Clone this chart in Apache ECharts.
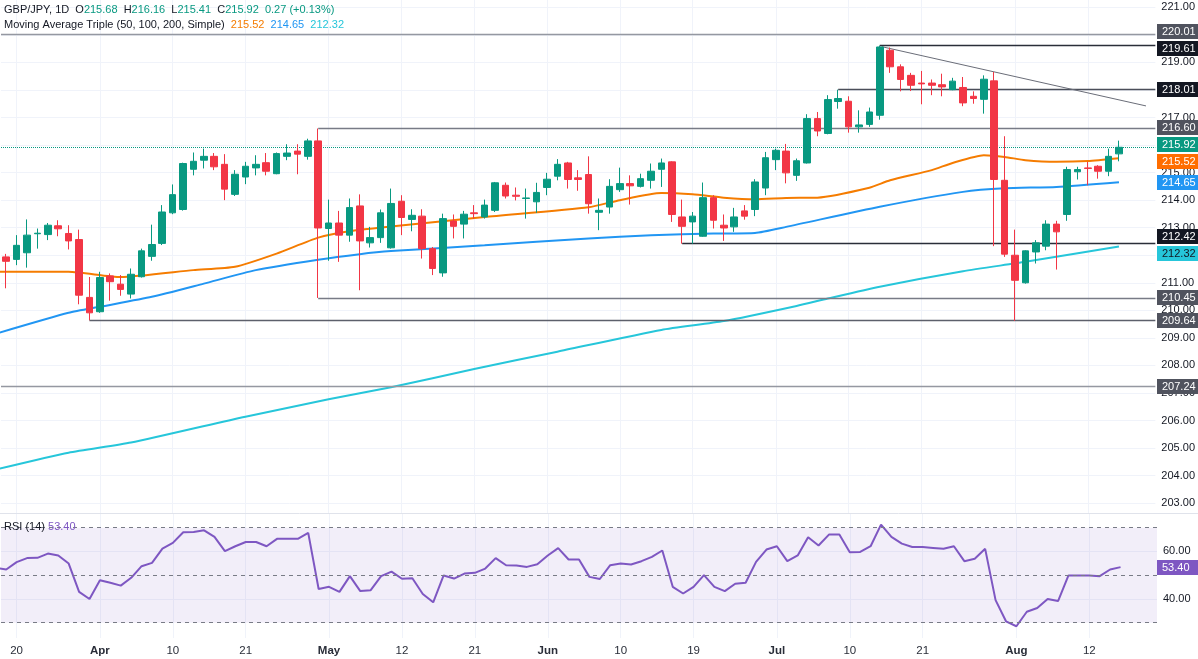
<!DOCTYPE html>
<html>
<head>
<meta charset="utf-8">
<title>GBP/JPY 1D</title>
<script src="https://cdn.jsdelivr.net/npm/echarts@6/dist/echarts.min.js"></script>
<style>
  html, body { margin: 0; padding: 0; background: #fff; }
  #chart { width: 1198px; height: 659px; }
</style>
</head>
<body>
<div id="chart"></div>
<script>
// x = trading day index, 0 = Mar 20; first candle is Mar 19 (index -1)
const firstIdx = -1;

const opens = [
  211.94, 211.85, 212.09, 212.78, 212.75, 213.07, 212.79, 212.57, 210.47, 209.95,
  211.25, 210.95, 210.59, 211.22, 211.96, 212.43, 213.54, 213.66, 215.12, 215.45,
  215.59, 215.30, 214.21, 214.84, 215.17, 215.36, 214.96, 215.59, 215.78, 215.59,
  216.15, 212.97, 213.17, 212.73, 213.79, 212.45, 212.64, 212.27, 213.96, 213.30,
  213.42, 212.24, 211.36, 213.24, 213.13, 213.54, 213.39, 213.63, 214.54, 214.18,
  214.06, 213.94, 214.46, 214.87, 215.35, 214.81, 214.93, 213.56, 213.75, 214.38,
  214.60, 214.50, 214.72, 215.12, 215.39, 213.39, 213.21, 212.69, 214.09, 213.09,
  213.03, 213.61, 213.66, 214.44, 215.47, 215.78, 214.90, 215.35, 216.96, 216.42,
  217.58, 217.59, 216.66, 216.75, 217.08, 219.44, 218.84, 218.53, 218.25, 218.25,
  218.19, 218.01, 218.09, 217.77, 217.66, 218.33, 214.72, 212.00, 211.00, 212.12,
  212.33, 213.13, 213.48, 215.03, 215.17, 215.23, 215.05, 215.68
];
const highs = [
  212.05, 212.73, 213.30, 212.97, 213.17, 213.27, 213.09, 212.93, 211.21, 211.40,
  211.34, 211.28, 211.52, 212.24, 213.11, 213.82, 214.57, 215.36, 215.73, 215.87,
  215.71, 215.67, 215.09, 215.39, 215.63, 215.71, 215.73, 216.03, 216.03, 216.23,
  216.60, 214.02, 213.61, 214.06, 214.21, 213.03, 213.66, 214.42, 214.18, 213.67,
  213.67, 212.30, 213.51, 213.48, 213.61, 213.82, 214.02, 214.66, 214.64, 214.46,
  214.42, 214.63, 214.99, 215.49, 215.39, 215.09, 215.59, 214.06, 214.76, 215.18,
  214.90, 214.96, 215.33, 215.51, 215.41, 214.02, 213.57, 214.64, 214.18, 213.48,
  213.72, 213.82, 214.76, 215.75, 215.87, 216.04, 215.51, 217.12, 217.20, 217.81,
  218.01, 217.77, 217.26, 217.36, 219.61, 219.54, 218.93, 218.62, 218.69, 218.38,
  218.59, 218.44, 218.47, 217.95, 218.53, 218.65, 216.32, 212.93, 212.18, 212.55,
  213.27, 213.25, 215.21, 215.21, 215.39, 215.27, 215.87, 216.16
];
const lows = [
  210.80, 211.64, 211.55, 212.24, 212.55, 212.69, 212.21, 210.22, 209.64, 209.91,
  210.35, 210.53, 210.43, 211.19, 211.80, 212.37, 213.49, 213.62, 214.90, 215.15,
  215.09, 214.00, 214.15, 214.58, 214.90, 214.90, 214.94, 215.45, 214.94, 215.47,
  210.45, 211.80, 211.76, 212.49, 210.73, 212.28, 212.45, 212.24, 212.73, 212.87,
  211.88, 211.28, 211.22, 212.61, 212.61, 213.33, 213.33, 213.57, 214.06, 213.99,
  213.33, 213.54, 214.18, 214.72, 214.42, 214.34, 213.51, 212.91, 213.51, 214.30,
  213.84, 214.46, 214.42, 214.48, 213.21, 212.42, 212.42, 212.67, 212.97, 212.52,
  212.85, 213.29, 213.42, 214.18, 215.09, 214.61, 214.70, 215.33, 216.32, 216.39,
  217.32, 216.45, 216.45, 216.66, 216.92, 218.62, 217.95, 217.96, 217.48, 217.81,
  217.77, 217.99, 217.41, 217.50, 217.14, 212.33, 211.94, 209.62, 210.97, 211.70,
  212.18, 211.48, 213.25, 214.75, 214.54, 214.78, 214.87, 215.41
];
const closes = [
  211.78, 212.36, 212.73, 212.80, 213.09, 212.96, 212.52, 210.55, 209.91, 211.19,
  211.04, 210.76, 211.31, 212.16, 212.39, 213.57, 214.20, 215.33, 215.41, 215.59,
  215.21, 214.40, 214.94, 215.23, 215.30, 215.05, 215.69, 215.71, 215.67, 216.15,
  212.99, 213.17, 212.73, 213.73, 212.52, 212.64, 213.54, 213.88, 213.37, 213.45,
  212.24, 211.52, 213.33, 213.05, 213.49, 213.51, 213.82, 214.63, 214.15, 214.14,
  214.08, 214.28, 214.76, 215.30, 214.75, 214.75, 213.87, 213.63, 214.50, 214.60,
  214.52, 214.78, 215.05, 215.35, 213.48, 213.05, 213.42, 214.09, 213.27, 212.99,
  213.39, 213.42, 214.66, 215.54, 215.81, 214.99, 215.43, 216.96, 216.51, 217.65,
  217.69, 216.66, 216.73, 217.20, 219.56, 218.84, 218.38, 218.17, 218.22, 218.17,
  218.11, 218.32, 217.53, 217.69, 218.39, 214.75, 212.04, 211.09, 212.16, 212.45,
  213.13, 212.85, 215.11, 215.11, 215.15, 215.05, 215.59, 215.92
];

// moving averages at a few days
const ma50X = [-2, 5, 10, 17, 21, 25, 29, 32, 36, 45, 55, 58, 62, 65, 68, 71, 74, 77, 82, 84, 88, 90, 93, 95, 97, 100, 103, 106];
const ma50 = [211.40, 211.40, 211.21, 211.46, 211.58, 212.06, 212.64, 212.87, 213.04, 213.39, 213.74, 214.00, 214.26, 214.21,
  214.09, 214.03, 214.08, 214.09, 214.45, 214.72, 215.09, 215.35, 215.63, 215.57, 215.45, 215.39, 215.42, 215.52];
const ma100X = [-2, 5, 8, 13, 18, 23, 29, 33, 36, 45, 55, 61, 67, 71, 74, 83, 91, 95, 100, 106];
const ma100 = [209.15, 209.91, 210.13, 210.49, 210.97, 211.46, 211.84, 212.04, 212.15, 212.36, 212.61, 212.73, 212.79,
  212.81, 213.03, 213.76, 214.30, 214.43, 214.48, 214.65];
const ma200X = [-2, 5, 11, 22, 30, 36, 44, 52, 62, 68, 75, 78, 83, 91, 97, 106];
const ma200 = [204.22, 204.83, 205.20, 206.14, 206.77, 207.21, 207.87, 208.50, 209.29, 209.61, 210.16, 210.43, 210.86,
  211.42, 211.76, 212.32];

// RSI(14), first value is index -2
const rsiFirst = -2;
const rsi = [
  53.1,
  52.4, 55.5, 57.2, 57.3, 59.1, 58.3, 54.9, 43.0, 40.0, 47.9,
  46.8, 45.6, 48.9, 53.8, 55.2, 61.2, 63.6, 68.1, 68.2, 68.9,
  66.1, 60.1, 62.2, 64.0, 64.0, 62.2, 65.3, 65.4, 65.3, 67.8,
  44.2, 45.1, 43.0, 49.6, 43.3, 43.7, 49.6, 51.5, 48.5, 48.7,
  42.1, 38.6, 49.9, 48.6, 50.7, 51.0, 52.8, 57.2, 54.2, 54.1,
  53.5, 54.6, 58.3, 61.4, 56.6, 56.6, 49.3, 48.4, 54.2, 54.9,
  54.5, 55.9, 57.7, 60.4, 45.1, 42.3, 45.1, 50.0, 45.1, 43.3,
  46.4, 46.8, 55.6, 60.8, 62.2, 55.9, 58.3, 66.0, 62.5, 67.1,
  67.1, 59.7, 59.8, 62.2, 71.3, 66.1, 63.3, 61.9, 61.9, 61.5,
  61.1, 62.2, 55.9, 56.9, 61.1, 39.5, 30.6, 28.5, 34.6, 36.2,
  40.0, 39.1, 49.9, 49.9, 49.9, 49.6, 52.4, 53.4
];

// time axis labels
const tickIdx = [0, 8, 15, 22, 30, 37, 44, 51, 58, 65, 73, 80, 87, 96, 103];
const tickText = ['20', 'Apr', '10', '21', 'May', '12', '21', 'Jun', '10', '19', 'Jul', '10', '21', 'Aug', '12'];
const priceTicks = [203, 204, 205, 206, 207, 208, 209, 210, 211, 212, 213, 214, 215, 216, 217, 218, 219, 220, 221];
const rsiTicks = [40, 60];

// horizontal levels and the day each one starts from
const levelVals = [220.01, 219.61, 218.01, 216.60, 212.42, 210.45, 209.64, 207.24];
const levelFrom = [-1.5, 83, 79, 29, 64, 29, 7, -1.5];
// trend lines [x, price]
const trendStart = [[-1.6, 208.60], [83.2, 219.57]];
const trendEnd = [[107.65, 215.24], [108.6, 217.42]];

const font = '"Liberation Sans", Arial, sans-serif';
const xMin = -1.5, xMax = 109.5;
const levelColors = ['#9598a1', '#2a2e39', '#4a4e59', '#787b86', '#2a2e39', '#787b86', '#5d606b', '#9598a1'];

const candles = opens.map((o, i) => [firstIdx + i, o, closes[i], lows[i], highs[i]]);
const pairs = (xs, ys) => xs.map((x, i) => [x, ys[i]]);
const months = ['Apr', 'May', 'Jun', 'Jul', 'Aug'];

const chart = echarts.init(document.getElementById('chart'));

const levelLines = levelVals.map((v, i) => [
  { coord: [levelFrom[i], v], lineStyle: { color: levelColors[i], width: 1.3, type: 'solid' } },
  { coord: [xMax, v] }
]);
const trendLines = trendStart.map((s, i) => [
  { coord: s, lineStyle: { color: '#6a6d78', width: 1, type: 'solid' } },
  { coord: trendEnd[i] }
]);

const option = {
  animation: false,
  backgroundColor: '#ffffff',
  grid: [
    { left: 1, right: 41, top: 0, height: 513 },
    { left: 1, right: 41, top: 513, height: 125 }
  ],
  xAxis: [
    {
      type: 'value', gridIndex: 0, min: xMin, max: xMax,
      axisLine: { show: false },
      axisTick: { show: false, customValues: tickIdx },
      axisLabel: { show: false, customValues: tickIdx },
      splitLine: { show: true, lineStyle: { color: '#f0f3fa' } }
    },
    {
      type: 'value', gridIndex: 1, min: xMin, max: xMax,
      axisLine: { show: false },
      axisTick: { show: false, customValues: tickIdx },
      axisLabel: {
        customValues: tickIdx,
        margin: 7,
        color: '#2a2e39',
        fontSize: 11.5,
        fontFamily: font,
        formatter: function (v) {
          const t = tickText[tickIdx.indexOf(v)];
          return months.indexOf(t) >= 0 ? '{m|' + t + '}' : t;
        },
        rich: { m: { fontWeight: 'bold', fontSize: 11.5, fontFamily: font, color: '#2a2e39' } }
      },
      splitLine: { show: true, lineStyle: { color: '#f0f3fa' } }
    }
  ],
  yAxis: [
    {
      type: 'value', gridIndex: 0, position: 'right', min: 202.644, max: 221.265,
      axisLine: { show: false },
      axisTick: { show: false, customValues: priceTicks },
      axisLabel: {
        customValues: priceTicks, margin: 6, color: '#131722', fontSize: 11, fontFamily: font,
        formatter: v => v.toFixed(2)
      },
      splitLine: { show: true, lineStyle: { color: '#f0f3fa' } }
    },
    {
      type: 'value', gridIndex: 1, position: 'right', min: 23.56, max: 76.19,
      axisLine: { show: false },
      axisTick: { show: false, customValues: rsiTicks },
      axisLabel: {
        customValues: rsiTicks, margin: 6, color: '#131722', fontSize: 11, fontFamily: font,
        formatter: v => v.toFixed(2)
      },
      splitLine: { show: true, lineStyle: { color: '#f0f3fa' } }
    }
  ],
  series: [
    {
      name: 'MA200', type: 'line', xAxisIndex: 0, yAxisIndex: 0, z: 2,
      data: pairs(ma200X, ma200), showSymbol: false, smooth: 0.2,
      lineStyle: { color: '#26c6da', width: 2 },
      markLine: {
        silent: true, symbol: ['none', 'none'], label: { show: false }, animation: false,
        data: levelLines.concat(trendLines).concat([
          { yAxis: closes[closes.length - 1], lineStyle: { color: '#089981', width: 1, type: 'dotted' } }
        ])
      }
    },
    {
      name: 'MA100', type: 'line', xAxisIndex: 0, yAxisIndex: 0, z: 2,
      data: pairs(ma100X, ma100), showSymbol: false, smooth: 0.2,
      lineStyle: { color: '#2196f3', width: 2 }
    },
    {
      name: 'MA50', type: 'line', xAxisIndex: 0, yAxisIndex: 0, z: 2,
      data: pairs(ma50X, ma50), showSymbol: false, smooth: 0.2,
      lineStyle: { color: '#f57c00', width: 2 }
    },
    {
      name: 'GBP/JPY', type: 'candlestick', xAxisIndex: 0, yAxisIndex: 0, z: 5,
      data: candles, encode: { x: 0, y: [1, 2, 3, 4] },
      barWidth: 7,
      itemStyle: {
        color: '#089981', color0: '#f23645',
        borderColor: '#089981', borderColor0: '#f23645', borderWidth: 1
      }
    },
    {
      name: 'RSI', type: 'line', xAxisIndex: 1, yAxisIndex: 1, z: 3,
      data: rsi.map((v, i) => [rsiFirst + i, v]), showSymbol: false,
      lineStyle: { color: '#7e57c2', width: 2 },
      markArea: {
        silent: true,
        itemStyle: { color: 'rgba(126, 87, 194, 0.1)' },
        data: [[{ yAxis: 70 }, { yAxis: 30 }]]
      },
      markLine: {
        silent: true, symbol: ['none', 'none'], label: { show: false }, animation: false,
        lineStyle: { color: '#787b86', width: 1, type: [4, 4] },
        data: [{ yAxis: 70 }, { yAxis: 50 }, { yAxis: 30 }]
      }
    }
  ]
};

chart.setOption(option);

// price tags on the right scale, placed with the axis scale
const lastMA50 = ma50[ma50.length - 1], lastMA100 = ma100[ma100.length - 1], lastMA200 = ma200[ma200.length - 1];
const lastClose = closes[closes.length - 1];
const tags = [
  [220.01, '#50535e', '#fff'], [219.61, '#131722', '#fff'], [218.01, '#131722', '#fff'],
  [216.60, '#50535e', '#fff'], [212.42, '#131722', '#fff'], [lastMA200, '#26c6da', '#131722'],
  [210.45, '#50535e', '#fff'], [209.64, '#50535e', '#fff'], [207.24, '#50535e', '#fff'],
  [lastMA100, '#2196f3', '#fff'], [lastMA50, '#ff6d00', '#fff'], [lastClose, '#089981', '#fff']
];

const tagH = 15, tagGap = 17;
let tagZ = 100;
function tag(y, text, bg, fg) {
  tagZ += 2;
  const top = Math.round(y - tagH / 2);
  return [
    { type: 'rect', z: tagZ, zlevel: 0, shape: { x: 1157, y: top, width: 41, height: tagH }, style: { fill: bg } },
    { type: 'text', z: tagZ + 1, zlevel: 0, x: 1162, y: top + tagH / 2 + 0.5,
      style: { text: text, fill: fg, font: '11px ' + font, verticalAlign: 'middle' } }
  ];
}

// pixel rows of the tags, pushed apart where they would overlap
const tagRows = tags.map(t => ({ y: chart.convertToPixel({ yAxisIndex: 0 }, t[0]), t: t }));
const sorted = tagRows.slice().sort((a, b) => a.y - b.y);
for (let k = 0; k < 20; k++) {
  for (let i = 1; i < sorted.length; i++) {
    const d = sorted[i].y - sorted[i - 1].y;
    if (d < tagGap) {
      const push = (tagGap - d) / 2;
      sorted[i - 1].y -= push;
      sorted[i].y += push;
    }
  }
}

let graphics = [];
tagRows.forEach(r => { graphics = graphics.concat(tag(r.y, r.t[0].toFixed(2), r.t[1], r.t[2])); });
const lastRsi = rsi[rsi.length - 1];
graphics = graphics.concat(tag(chart.convertToPixel({ yAxisIndex: 1 }, lastRsi), lastRsi.toFixed(2), '#7e57c2', '#fff'));

// panel separator
graphics.push({ type: 'line', z: 90, shape: { x1: 0, y1: 513.5, x2: 1198, y2: 513.5 }, style: { stroke: '#e0e3eb', lineWidth: 1 } });

// legend texts
const dark = '#131722', up = '#089981';
const o = opens[opens.length - 1].toFixed(2), h = highs[highs.length - 1].toFixed(2), l = lows[lows.length - 1].toFixed(2);
function legend(x, y, text, rich) {
  return { type: 'text', x: x, y: y, z: 100, style: { text: text, font: '11px ' + font, fill: dark, verticalAlign: 'middle', rich: rich } };
}
const richBase = {
  k: { fill: dark, font: '11px ' + font },
  v: { fill: up, font: '11px ' + font },
  o: { fill: '#f57c00', font: '11px ' + font },
  b: { fill: '#2196f3', font: '11px ' + font },
  c: { fill: '#26c6da', font: '11px ' + font },
  p: { fill: '#7e57c2', font: '11px ' + font }
};
graphics.push(
  legend(4, 10, '{k|GBP/JPY, 1D  O}{v|' + o + '}{k|  H}{v|' + h + '}{k|  L}{v|' + l + '}{k|  C}{v|' + lastClose.toFixed(2) + '}{v|  0.27 (+0.13%)}', richBase),
  legend(4, 25, '{k|Moving Average Triple (50, 100, 200, Simple)}{o|  ' + lastMA50.toFixed(2) + '}{b|  ' + lastMA100.toFixed(2) + '}{c|  ' + lastMA200.toFixed(2) + '}', richBase),
  legend(4, 527, '{k|RSI (14)} {p|' + lastRsi.toFixed(2) + '}', richBase)
);

chart.setOption({ graphic: graphics });
</script>
</body>
</html>
